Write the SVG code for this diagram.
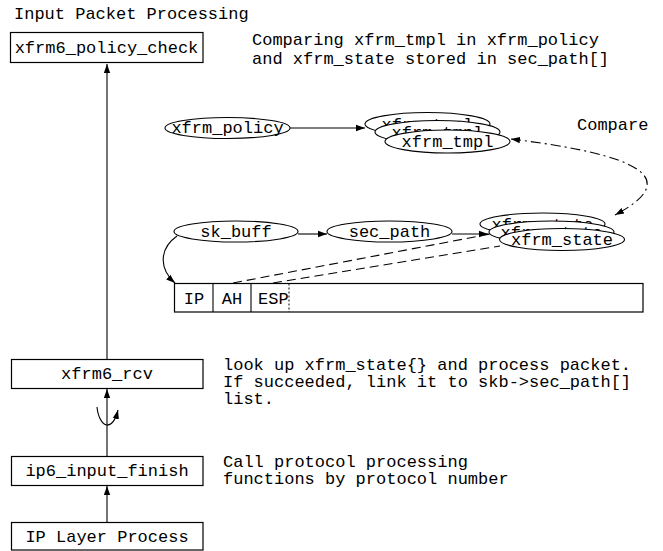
<svg xmlns="http://www.w3.org/2000/svg" width="663" height="551" viewBox="0 0 663 551">
<style>
text{font-family:"Liberation Mono","Courier New",monospace;font-size:17px;fill:#000}
.c{text-anchor:middle}
.box{fill:#fff;stroke:#000;stroke-width:1.2}
.el{fill:#fff;stroke:#000;stroke-width:1.1}
.ln{fill:none;stroke:#000;stroke-width:1.1}
.dash{fill:none;stroke:#000;stroke-width:1.1;stroke-dasharray:9,5}
.dd{fill:none;stroke:#000;stroke-width:1.1;stroke-dasharray:10,4,2,4}
</style>
<defs>
<marker id="ah" viewBox="0 0 10 10" refX="10" refY="5" markerWidth="9" markerHeight="9" markerUnits="userSpaceOnUse" orient="auto-start-reverse">
<path d="M0,1.5 L10,5 L0,8.5 z" fill="#000"/>
</marker>
</defs>
<rect width="663" height="551" fill="#fff"/>
<text x="14" y="19">Input Packet Processing</text>
<text x="252" y="45">Comparing xfrm_tmpl in xfrm_policy</text>
<text x="252" y="64">and xfrm_state stored in sec_path[]</text>
<text x="577" y="130">Compare</text>
<text x="223" y="370">look up xfrm_state{} and process packet.</text>
<text x="223" y="387">If succeeded, link it to skb-&gt;sec_path[]</text>
<text x="223" y="404">list.</text>
<text x="223" y="467">Call protocol processing</text>
<text x="223" y="484">functions by protocol number</text>

<g id="connectors">
<line class="ln" x1="107" y1="359" x2="107" y2="64" marker-end="url(#ah)"/>
<line class="ln" x1="107" y1="456" x2="107" y2="389" marker-end="url(#ah)"/>
<line class="ln" x1="107" y1="522" x2="107" y2="486" marker-end="url(#ah)"/>
<path class="ln" d="M97,407 C98,418 103,425 107,425 C112,425 116,418 118,410" marker-end="url(#ah)"/>
<line class="ln" x1="290" y1="128" x2="365" y2="128" marker-end="url(#ah)"/>
<line class="ln" x1="298" y1="234" x2="327" y2="234" marker-end="url(#ah)"/>
<line class="ln" x1="452" y1="234" x2="488" y2="234" marker-end="url(#ah)"/>
<path class="ln" d="M177,236 C160,248 158,268 175,283" marker-end="url(#ah)"/>
<path class="dd" d="M511,139 C600,150 700,170 615,215" marker-start="url(#ah)" marker-end="url(#ah)"/>
<line class="dash" x1="233" y1="283" x2="490" y2="234"/>
<line class="dash" x1="273" y1="283" x2="500" y2="246"/>
</g>

<g id="xfrm6_policy_check">
<rect class="box" x="10.5" y="32.5" width="192.5" height="30"/>
<text class="c" x="106.5" y="53">xfrm6_policy_check</text>
</g>
<g id="xfrm6_rcv">
<rect class="box" x="11.5" y="359.5" width="191.5" height="29"/>
<text class="c" x="107" y="379">xfrm6_rcv</text>
</g>
<g id="ip6_input_finish">
<rect class="box" x="11.5" y="456.5" width="191.5" height="29"/>
<text class="c" x="107" y="476">ip6_input_finish</text>
</g>
<g id="ip_layer_process">
<rect class="box" x="11.5" y="522.5" width="191.5" height="27.5"/>
<text class="c" x="107" y="542">IP Layer Process</text>
</g>

<g id="xfrm_policy">
<ellipse class="el" cx="227.5" cy="128" rx="62.5" ry="10.5"/>
<text class="c" x="227.5" y="133">xfrm_policy</text>
</g>

<g id="xfrm_tmpl">
<ellipse class="el" cx="427.5" cy="124" rx="62.5" ry="11.5"/>
<text class="c" x="427.5" y="130">xfrm_tmpl</text>
<ellipse class="el" cx="437.5" cy="132" rx="62.5" ry="11.5"/>
<text class="c" x="437.5" y="138">xfrm_tmpl</text>
<ellipse class="el" cx="447.5" cy="141.5" rx="62.5" ry="11.5"/>
<text class="c" x="447.5" y="147">xfrm_tmpl</text>
</g>

<g id="sk_buff">
<ellipse class="el" cx="236" cy="231.5" rx="62" ry="10.5"/>
<text class="c" x="236" y="237">sk_buff</text>
</g>
<g id="sec_path">
<ellipse class="el" cx="389.5" cy="231.5" rx="62.5" ry="10.5"/>
<text class="c" x="389.5" y="237">sec_path</text>
</g>

<g id="xfrm_state">
<ellipse class="el" cx="542.5" cy="224" rx="62.5" ry="11"/>
<text class="c" x="542.5" y="230">xfrm_state</text>
<ellipse class="el" cx="551.5" cy="232" rx="62.5" ry="11"/>
<text class="c" x="551.5" y="238">xfrm_state</text>
<ellipse class="el" cx="562" cy="239.5" rx="62.5" ry="11"/>
<text class="c" x="562" y="245">xfrm_state</text>
</g>

<g id="packet">
<rect class="box" x="174.5" y="283.5" width="468.5" height="28.5"/>
<line class="ln" x1="213" y1="283.5" x2="213" y2="312"/>
<line class="ln" x1="251" y1="283.5" x2="251" y2="312"/>
<line x1="289" y1="283.5" x2="289" y2="312" stroke="#000" stroke-width="1" stroke-dasharray="2,2"/>
<text class="c" x="194" y="304">IP</text>
<text class="c" x="232" y="304">AH</text>
<text x="258" y="304">ESP</text>
</g>
</svg>
